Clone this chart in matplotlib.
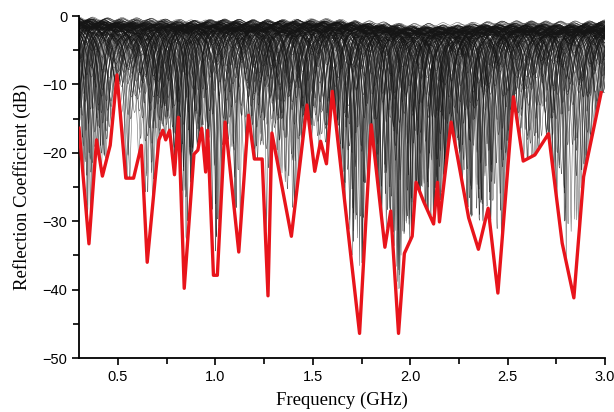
import numpy as np
import matplotlib
matplotlib.use("Agg")
import matplotlib.pyplot as plt
from matplotlib.ticker import MultipleLocator

# ---- red envelope (minimum reflection coefficient) ----
red_freq = [0.30, 0.351, 0.39, 0.42, 0.46, 0.495, 0.54, 0.58, 0.62, 0.65, 0.71, 0.73,
            0.745, 0.765, 0.79, 0.81, 0.84, 0.89, 0.91, 0.93, 0.95, 0.96, 0.99, 1.01,
            1.05, 1.12, 1.17, 1.20, 1.24, 1.27, 1.29, 1.39, 1.47, 1.51, 1.54, 1.57,
            1.60, 1.74, 1.80, 1.87, 1.90, 1.94, 1.97, 2.01, 2.03, 2.07, 2.12, 2.14,
            2.15, 2.21, 2.30, 2.35, 2.40, 2.45, 2.53, 2.58, 2.64, 2.71, 2.78, 2.84,
            2.89, 2.98]
red_db = [-16.4, -33.3, -18.1, -23.4, -18.9, -8.6, -23.7, -23.7, -18.9, -36.0, -18.1, -16.7,
          -18.1, -16.7, -23.2, -14.8, -39.8, -20.2, -19.6, -16.4, -22.8, -16.7, -37.9, -37.9,
          -15.5, -34.5, -14.5, -20.9, -20.9, -40.9, -17.1, -32.2, -13.0, -22.7, -18.3, -21.6,
          -11.0, -46.4, -15.9, -33.8, -28.5, -46.4, -34.7, -32.2, -24.3, -27.2, -30.4, -24.3,
          -30.1, -15.5, -29.5, -34.1, -28.1, -40.5, -11.8, -21.2, -20.3, -17.2, -33.2, -41.2,
          -23.5, -11.2]

# ---- upper edge of the black curve family and depth of its dense band ----
top_freq = [0.30, 0.80, 1.20, 1.60, 1.80, 2.00, 2.20, 2.50, 2.80, 3.00]
top_db = [0.0, -0.1, -0.1, -0.1, -0.4, -0.8, -0.7, -0.5, -0.6, -0.4]
dense_freq = [0.30, 0.60, 1.00, 1.40, 1.60, 1.80, 1.95, 2.10, 2.30, 2.60, 2.90, 3.00]
dense_db = [-9.0, -11.0, -10.0, -11.0, -13.0, -20.0, -26.0, -21.0, -13.0, -9.0, -10.0, -6.0]

n_curves = 170
x_ticks = [0.5, 1.0, 1.5, 2.0, 2.5, 3.0]
y_ticks = [0, -10, -20, -30, -40, -50]

fig = plt.figure(figsize=(6.14, 4.12), dpi=100)
ax = fig.add_axes([0.1287, 0.131, 0.8567, 0.830])

f = np.linspace(0.30, 3.0, 1600)
red_interp = np.interp(f, red_freq, red_db)
top_interp = np.interp(f, top_freq, top_db)

# Deterministic Weyl sequences used to spread the parameter sweep of the family
phi1 = 0.6180339887
phi2 = 0.7548776662
phi3 = 0.5698402910

for k in range(n_curves):
    v = (k * phi1) % 1.0
    spacing = 0.18 + 0.32 * ((k * phi2) % 1.0)
    start = 0.30 + spacing * ((k * phi3) % 1.0) - 0.05
    centers = np.arange(start, 3.15, spacing)
    base = top_interp - 1.2 * v - 0.4 * (1 - np.cos(2 * np.pi * f / 0.075 + 6.28 * v)) / 2
    gamma2 = np.ones_like(f)
    for j, c in enumerate(centers):
        u = ((k + 1) * phi2 + (j + 1) * phi3 + v * 0.37) % 1.0
        dn = np.interp(c, dense_freq, dense_db)
        rd = np.interp(c, red_freq, red_db)
        if u < 0.5:
            depth = dn * (u / 0.5) ** 1.1
        else:
            depth = dn + (rd - dn) * ((u - 0.5) / 0.5) ** 0.9
        A = 1 - 10 ** (depth / 10)
        w = 0.03 + 0.03 * ((j * phi1 + k * phi3) % 1.0)
        L = 1.0 / (1.0 + ((f - c) / w) ** 2)
        gamma2 *= (1 - A * L)
    y = base + 10 * np.log10(np.clip(gamma2, 1e-8, None))
    y = np.maximum(y, red_interp)
    ax.plot(f, y, color="#151515", lw=0.35, alpha=0.7)

ax.plot(red_freq, red_db, color="#e8141b", lw=2.4, zorder=5)

ax.set_xlim(0.3, 3.0)
ax.set_ylim(-50, 0)
ax.spines["top"].set_visible(False)
ax.spines["right"].set_visible(False)
ax.spines["left"].set_linewidth(1.3)
ax.spines["bottom"].set_linewidth(1.3)
ax.set_xticks(x_ticks)
ax.set_yticks(y_ticks)
ax.xaxis.set_minor_locator(MultipleLocator(0.25))
ax.yaxis.set_minor_locator(MultipleLocator(5))
ax.tick_params(which="both", direction="out", width=1.2, labelsize=10.5)
ax.tick_params(which="major", length=5)
ax.tick_params(which="minor", length=4)
ax.set_xticklabels(["0.5", "1.0", "1.5", "2.0", "2.5", "3.0"])
ax.set_yticklabels(["0", "\u221210", "\u221220", "\u221230", "\u221240", "\u221250"])
for lab in ax.get_xticklabels() + ax.get_yticklabels():
    lab.set_family("Liberation Sans")

ax.set_xlabel("Frequency (GHz)", family="Liberation Serif", fontsize=13.5, labelpad=6)
ax.set_ylabel("Reflection Coefficient (dB)", family="Liberation Serif", fontsize=13.5, labelpad=8)

fig.savefig("out.png", dpi=100)
